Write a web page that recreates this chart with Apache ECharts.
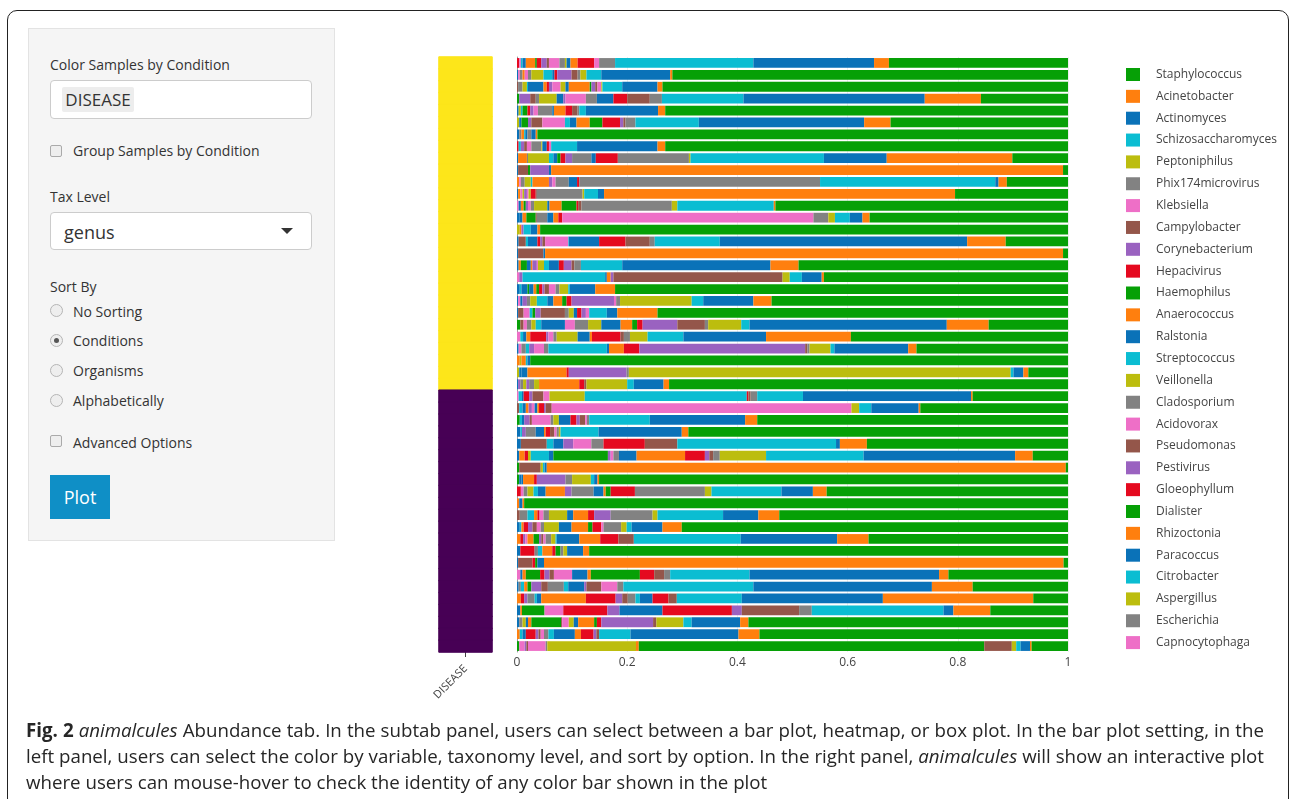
<!DOCTYPE html>
<html>
<head>
<meta charset="utf-8">
<script src="https://cdn.jsdelivr.net/npm/echarts@6/dist/echarts.min.js"></script>
<style>
  body { margin: 0; width: 1292px; height: 799px; overflow: hidden; background: #fff; font-family: 'Open Sans', sans-serif; }
  #frame { position: absolute; left: 7px; top: 10px; width: 1282px; height: 820px; border: 1.5px solid #222; border-radius: 10px; box-sizing: border-box; }
  #chart { position: absolute; left: 0; top: 0; width: 1292px; height: 799px; }
  .ui { position: absolute; color: #333; font-size: 14px; line-height: 18px; white-space: nowrap; }
  #panel { position: absolute; left: 28px; top: 28px; width: 307px; height: 513px; background: #f5f5f5; border: 1px solid #e3e3e3; box-sizing: border-box; }
  .box { position: absolute; background: #fff; border: 1px solid #ccc; border-radius: 4px; box-sizing: border-box; }
  .chk { position: absolute; width: 12px; height: 12px; border: 1px solid #aaa; border-radius: 2px; background: #eee; box-sizing: border-box; }
  .rad { position: absolute; width: 13px; height: 13px; border: 1px solid #b5b5b5; border-radius: 50%; background: #eee; box-sizing: border-box; }
  .rad.on::after { content: ''; position: absolute; left: 3px; top: 3px; width: 5px; height: 5px; border-radius: 50%; background: #555; }
  #caption { position: absolute; left: 26px; top: 717px; width: 1238px; font-size: 18.7px; line-height: 26px; color: #262626; }
  #caption .j { text-align: justify; text-align-last: justify; white-space: nowrap; }
</style>
</head>
<body>
<div id="frame"></div>
<div id="chart"></div>

<div id="panel"></div>
<div class="ui" style="left:50px;top:56px;">Color Samples by Condition</div>
<div class="box" style="left:50px;top:80px;width:262px;height:39px;"></div>
<div class="ui" style="left:62px;top:87px;width:72px;height:25px;line-height:25px;background:#ededed;border-radius:2px;font-size:17px;text-align:center;">DISEASE</div>
<div class="chk" style="left:50px;top:145px;"></div>
<div class="ui" style="left:73px;top:142px;">Group Samples by Condition</div>
<div class="ui" style="left:50px;top:188px;">Tax Level</div>
<div class="box" style="left:50px;top:212px;width:262px;height:38px;"></div>
<div class="ui" style="left:64px;top:220px;font-size:18px;line-height:24px;">genus</div>
<div style="position:absolute;left:281px;top:228px;width:0;height:0;border-left:6px solid transparent;border-right:6px solid transparent;border-top:6px solid #333;"></div>
<div class="ui" style="left:50px;top:278px;">Sort By</div>
<div class="rad" style="left:50px;top:304px;"></div>
<div class="ui" style="left:73px;top:303px;">No Sorting</div>
<div class="rad on" style="left:50px;top:334px;"></div>
<div class="ui" style="left:73px;top:332px;">Conditions</div>
<div class="rad" style="left:50px;top:364px;"></div>
<div class="ui" style="left:73px;top:362px;">Organisms</div>
<div class="rad" style="left:50px;top:394px;"></div>
<div class="ui" style="left:73px;top:392px;">Alphabetically</div>
<div class="chk" style="left:50px;top:435px;"></div>
<div class="ui" style="left:73px;top:434px;">Advanced Options</div>
<div class="ui" style="left:50px;top:475px;width:60px;height:44px;line-height:44px;background:#0f8fc6;color:#fff;font-size:18px;text-align:center;">Plot</div>

<div id="caption">
  <div class="j"><b>Fig. 2</b> <i>animalcules</i> Abundance tab. In the subtab panel, users can select between a bar plot, heatmap, or box plot. In the bar plot setting, in the</div>
  <div class="j">left panel, users can select the color by variable, taxonomy level, and sort by option. In the right panel, <i>animalcules</i> will show an interactive plot</div>
  <div>where users can mouse-hover to check the identity of any color bar shown in the plot</div>
</div>

<script>
// legend order, top to bottom (stacked bars run the other way, left to right)
const legendGenera = ['Staphylococcus', 'Acinetobacter', 'Actinomyces', 'Schizosaccharomyces', 'Peptoniphilus',
  'Phix174microvirus', 'Klebsiella', 'Campylobacter', 'Corynebacterium', 'Hepacivirus', 'Haemophilus',
  'Anaerococcus', 'Ralstonia', 'Streptococcus', 'Veillonella', 'Cladosporium', 'Acidovorax', 'Pseudomonas',
  'Pestivirus', 'Gloeophyllum', 'Dialister', 'Rhizoctonia', 'Paracoccus', 'Citrobacter', 'Aspergillus',
  'Escherichia', 'Capnocytophaga'];
// low-abundance taxa stacked first, not listed in the visible legend
const hiddenGenera = ['other taxon 1', 'other taxon 2', 'other taxon 3', 'other taxon 4', 'other taxon 5', 'other taxon 6'];
const palette = ['#0a72b8', '#ff7f0e', '#06a006', '#e5091f', '#9a62c0', '#94564a', '#ee6fc7', '#828282', '#bcbd0e', '#0bbdd2'];
const conditionColors = ['#fde61a', '#470055'];

const sampleIds = ['S01','S02','S03','S04','S05','S06','S07','S08','S09','S10','S11','S12','S13','S14','S15','S16','S17',
  'S18','S19','S20','S21','S22','S23','S24','S25','S26','S27','S28','S29','S30','S31','S32','S33','S34','S35','S36',
  'S37','S38','S39','S40','S41','S42','S43','S44','S45','S46','S47','S48','S49','S50'];
// DISEASE condition: 0 = yellow group, 1 = purple group
const diseaseGroup = [0,0,0,0,0,0,0,0,0,0,0,0,0,0,0,0,0,0,0,0,0,0,0,0,0,0,0,0,
  1,1,1,1,1,1,1,1,1,1,1,1,1,1,1,1,1,1,1,1,1,1];

// relative abundance in %, one row per sample: 6 unlisted taxa, then Capnocytophaga ... Staphylococcus
const abundancePct = [
  [0,0,0,0.4,0,0, 0.3,0,0,0.3,0.6,1.7,0.3,0.8,1.0,0.4, 1.9,1.0,0.3,0,0.7,1.3,0,3.0,0,0, 0.9,2.9,0,25.1,21.9,2.7,32.5],
  [0.2,0,0,0,0,0, 0.3,0.5,0,0,0,0.4,0,0,0,0, 0.6,0.6,2.2,1.6,0.4,0,0,0.5,2.6,1.1, 0,0.5,1.1,2.7,12.5,0.4,71.8],
  [0,0,0,0,0,0.2, 0,0.8,0.8,0.2,2.8,0.6,0,0.4,0.6,0, 1.5,0,0.9,0,0.6,3.8,0.3,0,0.7,0.4, 0.7,0,0.2,3.6,6.4,0.9,73.6],
  [0,0,0.4,0,2.0,1.0, 0,0.6,3.2,0,1.2,0,0,0,0.4,0, 3.7,2.0,0,0,3.0,0,0,2.5,0,4.1, 0,2.2,0,14.8,32.9,10.2,15.8],
  [0.3,0,0,0,0,0, 0,0,0.4,0.3,0,0,0.9,0.5,0.6,0, 0.8,2.6,0,0,0.3,2.1,0,1.2,0,1.0, 0,0.3,0,1.2,13.1,1.3,73.1],
  [0,0,0,0,0,0, 0,0,0.4,0,0.4,0,1.2,0,0.6,2.0, 4.1,0,0,0.9,1.2,2.4,2.3,3.2,0.6,0.4, 0,1.8,0,11.5,30.0,4.8,32.2],
  [0.4,0,0,0,0,0, 0,0.4,0,0,0,0.5,0,0,0,0, 0,0,0,0.2,0.4,0,0,0,0,0, 0,0.7,0,0,0.8,0.3,96.3],
  [0,0,0,0.3,0,0, 0,0,0,0.4,0,0,0,0,0.6,0.5, 0.8,1.8,0.2,0,0.8,0,0,0.4,0,0, 0.4,0,0,4.7,14.6,1.4,73.1],
  [0.2,1.6,0,0,0,0, 0,0.2,3.8,0.8,0.7,0,0.6,0.9,1.2,0, 0,3.5,0,0,0.8,0,0,4.0,0,0, 0,12.9,0.3,24.2,11.4,22.8,10.1],
  [0.2,0,0,0,0,1.8, 0,0,0,0,0,0,0.4,0,3.4,0, 0,0,0,0,0,0,0,0,0,0, 0,0,0,0,0.4,92.9,0.9],
  [0,0.4,0,0,0,0, 0.3,0.7,1.1,0.3,0,3.0,0,0,0.6,0, 0.6,2.4,0,0,1.5,0,0,0.4,0,0, 0,43.7,0,31.8,0.6,1.5,11.1],
  [0.2,0.4,0,0,0,0, 0.4,0,0.3,0,0,0,0,0,0.5,0, 0.3,0,0.4,0,0,0,0,0.9,0,0.2, 0,8.3,0.3,2.5,1.1,63.7,20.5],
  [0,0,0,0,0,0, 0.3,0,0,0,0.4,0.5,0.4,0,0.4,0, 0.5,0.6,2.4,0,0.4,2.2,2.7,0.3,0,0.6, 0,16.4,1.0,17.5,0,0.3,53.1],
  [0.5,0,0,0,0,0, 0,0,0,0,0.5,0.7,1.7,0,0,0.2, 0,1.9,0,0,1.1,0.9,0,0.7,0,0, 45.6,2.7,1.2,2.7,2.3,1.3,36.0],
  [0,0,0,0,0,0, 0,0,0.5,0,0,0.3,0,0,0.4,0, 0,0,0,0,0,0,0,0,0,0, 0,0,0,1.3,1.2,0.5,95.8],
  [0.3,0,0,0,0,1.3, 0,0,0,0.4,1.7,0,0,0.5,0.4,0.5, 4.2,0,0,0.1,5.5,0,0,4.8,0,4.4, 0,0.9,0,11.8,44.9,7.0,11.3],
  [0.2,0,0,0,0,4.6, 0,0,0,0,0,0,0,0,0,0, 0,0,0,0,0,0,0,0,0,0, 0,0,0,0,0.3,94.0,0.9],
  [0.3,0.4,1.1,0,0,0, 0,0,0,0,0.7,0.3,0,0,0.8,0, 0.2,0,1.1,0.9,1.8,0,0,0.9,1.4,0.5, 0,1.2,0,7.5,26.9,5.1,48.9],
  [0,0,0,0,0,0, 0.4,0,0,0,0,0,0,0,0.6,0, 0,0,0,15.0,0.3,0.7,0,0,0.5,30.7, 0,0,1.3,2.2,3.6,0.4,44.3],
  [0.5,0,0,0,0,0, 0,0,0,0.3,1.1,0,0.3,0,0,0, 0,0,0,0,0.8,0.5,0.5,0.6,0.4,0.8, 1.2,0.7,1.6,0.3,4.6,3.6,82.2],
  [0.2,0,0,0,0,0, 0.4,0,0,0,0.4,0,0,0,0.8,0, 0,0.6,1.2,1.9,1.1,1.6,0.8,0.9,7.7,0, 0.4,0.7,13.0,2.1,9.1,3.3,53.8],
  [0.2,0,0,0,0,1.0, 1.1,0,0,0.5,0,0,0.5,0,1.0,4.4, 0,0.7,0.9,0,0.6,0,0,0.8,0.8,0, 0.6,0,0,3.2,1.9,7.3,74.5],
  [0,0,0.6,0,0,0.6, 0.6,0.8,0.8,1.0,4.3,0,0,0,0,0, 1.8,2.4,2.4,0,3.5,2.1,0.9,1.0,6.3,5.0, 0,0.6,6.0,1.5,35.8,7.6,14.4],
  [0,0,0,0,0,0, 0.6,0,0,0.5,0.6,0.7,0,2.9,0.4,0, 0.9,0.6,3.8,0,2.2,0.4,0,5.2,0,0.6, 0,1.1,3.2,6.5,15.0,15.4,39.4],
  [0.3,0,0,0,0,0, 0.5,0.8,0,0.6,0,0,0,0,0.9,0, 1.8,0.8,0,10.6,0.4,2.7,0,2.8,30.1,0.4, 0,0.4,3.8,0.7,13.4,1.5,27.5],
  [0,0.5,0,0,0,0, 0,0,0.3,0,0,0.8,0,0,0,0, 0,0,0,0,0,0,0,0,0,0, 0,0,0,0.3,0.5,0,97.6],
  [0,0,0,0,0,0, 0,0,0.4,0,0.4,0,0,0,0,0, 0,0,0,0,1.1,7.1,0,0.4,10.5,0, 0,0.4,69.3,0.5,1.8,0.9,7.2],
  [0.2,0,0,0,0.4,0, 0,0.5,0.6,0,0,0,0,0,0.5,0, 0,0.9,0.9,0,0,7.3,0,0.9,0,0.4, 0,0,7.4,1.2,5.4,1.0,72.4],
  [0,0,0,0,0,0, 0.3,0,0,0.6,0.3,0,0,1.0,0.6,2.0, 1.1,0,6.4,29.4,0,0,0,0.3,0,0.4, 0,1.2,0,8.3,30.5,0.3,17.3],
  [0,0,0,0,0,0.4, 0,0,0,0.6,0.6,0.5,0,0,0.6,0, 0.5,0,0,0,0.5,0.3,0,0.9,0.3,1.1, 54.4,0,1.4,2.2,8.6,0.3,26.8],
  [0,0,0.5,0,0,0, 0,0,0,0.4,0.4,0,0,0,1.0,0.4, 3.4,0.5,1.0,0,2.1,0,0,1.1,0.6,1.0, 0.3,0.4,0,11.0,17.3,2.2,56.4],
  [0.6,0,0,0,0,0, 0,0,0,0.3,0,0,0,0,0.7,0, 0,1.8,0,0,1.5,0.3,0,0.8,0,0.8, 0.4,0.4,0.3,6.9,15.1,1.2,68.9],
  [0.7,0,0,0,0,4.7, 0,0,0,1.2,1.8,0,0,0,1.8,0, 3.3,2.2,0,0,0,0,0,7.5,0,5.9, 0,0,0,28.8,0.7,4.9,36.5],
  [0.4,1.0,0,0.6,0,0, 0,0,0.5,3.3,0.8,0,9.9,0,0.5,0, 0.5,1.0,0,0,3.2,8.8,0,3.6,0.8,0.7, 0,1.2,8.4,17.7,27.5,3.2,6.4],
  [0,0,0.4,0,0,3.9, 0,0,0.4,0.3,0.4,0,0,0,0,0, 0,0,0,0,0,0,0,0,0,0, 0,0,0,0,0,94.2,0.4],
  [0,0,0.4,0,0,0, 0,0,0,0,0.4,0,0,0,0,0, 0,0,0,0,0.3,2.0,0,0.5,5.2,0, 0,1.2,3.4,0.6,0.6,0.3,85.1],
  [0,0,0,0.7,0,0, 0.5,0.7,1.1,0.8,1.4,3.5,0,0,1.2,0, 0,4.0,0,0,1.8,0.4,0.9,4.4,0,0, 0,12.7,1.2,12.7,5.7,2.5,43.8],
  [0,0.4,0,0,0,0, 0,0,0,0,0,0,0,0,0,0, 0,0,0,0,0,0,0,0,0,0, 0,0,0,0,0.6,0.3,98.7],
  [0,0,0,0,0,0.5, 0,1.4,0,1.2,0,0.6,0,0.4,0,0, 0.7,1.0,3.3,0,1.1,2.7,0,1.1,3.0,0, 0,7.6,0.9,11.9,6.4,3.8,52.4],
  [0.5,0,0,0,0,0, 0,0,0,0.3,0,0.4,0,0.8,0.8,0.8, 0.7,0.6,2.7,0,2.3,3.0,0.8,1.6,0,0, 0.4,3.2,1.0,0.9,5.6,3.5,70.1],
  [0,0.6,0,0.5,0.4,0, 0.4,0,0,0,0,1.1,1.0,0,0.4,0.4, 0.4,1.0,0.8,0.2,4.1,3.8,0,3.3,0,2.8, 0,0,0,19.4,17.5,5.7,36.2],
  [0.6,0,0,2.6,0,0, 0,0.6,0,0.8,0,1.8,0,0.6,0,0, 0,0,0,0,0,0,0.9,0,0,0, 0,0.5,0.7,0,2.9,1.1,86.9],
  [0.2,0,0,0,0,2.6, 0,0,0,0,0,0,0,0.5,0,0, 0,0,0,0,0,0,0.4,0,0,0, 0,0,0,0,1.2,94.3,0.8],
  [0,0,0,0,0,0, 0.6,0,0,0,0.4,0.6,2.6,0.8,0.9,0.8, 3.3,0,0,0,2.8,0.6,8.9,2.6,0,1.8, 0,1.1,0,14.4,34.4,1.7,21.7],
  [0.3,0,0,0,0,0, 0,0.4,0,0.6,0,0.6,0.7,0,1.8,1.2, 0,2.9,0,0.8,2.9,0,0,0,0.4,2.7, 2.9,1.1,0,23.6,32.4,7.4,17.3],
  [0,0.7,0,0.6,0.6,0, 0,1.3,0,0.4,0.8,8.1,0,5.4,1.2,1.0, 0,1.4,0,0.8,2.3,0,0,2.9,0,1.5, 0,0,0,11.8,25.6,27.3,6.3],
  [0.6,0.3,4.1,0,0,0, 3.4,0,0,0,0,0,0,8.0,2.2,0, 0,0,0,0,7.8,0,0,12.6,1.8,10.4, 0,2.3,0,23.9,1.8,6.7,14.1],
  [0.4,0,0,0,0,0, 0,0.6,0.6,0,0.4,0.6,5.4,0,0,0.2, 1.2,0,0.9,0,0.8,2.9,0.5,0.8,9.4,0.6, 0,0,4.9,1.5,8.8,1.5,58.0],
  [0,0.5,0,0,0,0, 0,0,0,0.5,0.6,0,0,1.8,0.5,0.4, 0.6,0.8,0,1.0,3.8,1.1,0,2.3,0.5,0.5, 0,0,0,5.7,19.6,3.8,56.0],
  [0,0,0.4,0,0,0, 1.0,0,0,0,0,0,0,0,0.3,0.3, 3.2,0.3,16.1,0,0,0.5,62.7,0,0,5.0, 0,0,0.8,0.8,1.7,0.3,6.6]
];

const stackOrder = hiddenGenera.concat(legendGenera.slice().reverse());

const chart = echarts.init(document.getElementById('chart'));

const barSeries = stackOrder.map(function (name, k) {
  return {
    type: 'bar',
    name: name,
    xAxisIndex: 1,
    yAxisIndex: 1,
    stack: 'abundance',
    barCategoryGap: '18%',
    itemStyle: { color: palette[k % palette.length] },
    emphasis: { disabled: true },
    data: abundancePct.map(function (row) { return row[k] / 100; })
  };
});

// condition strip; each cell gets a border in its own colour so neighbours join without seams
const conditionCells = diseaseGroup.map(function (g, i) {
  return {
    value: [0, i, g],
    itemStyle: { color: conditionColors[g], borderColor: conditionColors[g], borderWidth: 1 }
  };
});

const option = {
  animation: false,
  textStyle: { fontFamily: 'Open Sans' },
  grid: [
    { left: 439, top: 57, width: 53, height: 595 },
    { left: 517, top: 57, width: 551, height: 595 }
  ],
  xAxis: [
    {
      type: 'category', gridIndex: 0, data: ['DISEASE'],
      axisLine: { show: false },
      axisTick: { show: true, alignWithLabel: true, length: 5, lineStyle: { color: '#444' } },
      axisLabel: { rotate: 45, fontSize: 11, color: '#444', margin: 15 }
    },
    {
      type: 'value', gridIndex: 1, min: 0, max: 1, interval: 0.2,
      axisLine: { show: false }, axisTick: { show: false },
      splitLine: { lineStyle: { color: '#eeeeee' } },
      axisLabel: { fontSize: 12, color: '#444', margin: 5 }
    }
  ],
  yAxis: [
    { type: 'category', gridIndex: 0, data: sampleIds, inverse: true, show: false },
    {
      type: 'category', gridIndex: 1, data: sampleIds, inverse: true,
      axisLabel: { show: false }, axisTick: { show: false },
      axisLine: { show: true, lineStyle: { color: '#9a9a9a' } }
    }
  ],
  legend: {
    orient: 'vertical', left: 1121, top: 63,
    itemWidth: 14, itemHeight: 13, itemGap: 8.85, icon: 'rect',
    selectedMode: false,
    data: legendGenera,
    textStyle: { fontSize: 12, color: '#444', lineHeight: 13, padding: [0, 0, 0, 11] }
  },
  series: [{
    type: 'heatmap', xAxisIndex: 0, yAxisIndex: 0,
    emphasis: { disabled: true },
    data: conditionCells
  }].concat(barSeries)
};

chart.setOption(option);
</script>
</body>
</html>
